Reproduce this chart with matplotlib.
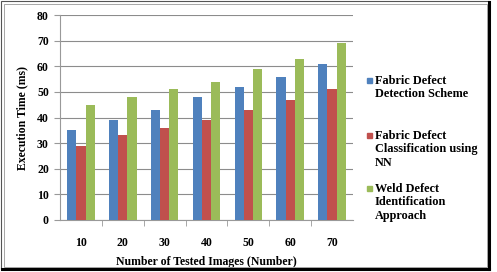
import numpy as np
import matplotlib
matplotlib.use("Agg")
import matplotlib.pyplot as plt
from matplotlib.patches import Rectangle

# data
images = ["10", "20", "30", "40", "50", "60", "70"]
detection = [35, 39, 43, 48, 52, 56, 61]
classification = [29, 33, 36, 39, 43, 47, 51]
weld = [45, 48, 51, 54, 59, 63, 69]
series_names = [
    "Fabric Defect\nDetection Scheme",
    "Fabric Defect\nClassification using\nNN",
    "Weld Defect\nIdentification\nApproach",
]
colors = ["#4F81BD", "#C0504D", "#9BBB59"]

plt.rcParams["font.family"] = ["Liberation Serif", "DejaVu Serif"]
plt.rcParams["font.weight"] = "bold"

fig = plt.figure(figsize=(4.97, 2.72), dpi=100)
ax = fig.add_axes([60 / 497, 52 / 272, 293 / 497, 205 / 272])

x = np.arange(len(images))
w = 0.22
for i, vals in enumerate([detection, classification, weld]):
    ax.bar(x + (i - 1) * w, vals, width=w, color=colors[i], zorder=3)

ax.set_xlim(-0.5, len(images) - 0.5)
ax.set_ylim(0, 80)
ax.set_yticks(range(0, 81, 10))
ax.set_xticks(x)
ax.set_xticklabels(images, fontweight="bold")
ax.set_yticklabels([str(v) for v in range(0, 81, 10)], fontweight="bold")
ax.set_xticks(np.arange(0.5, len(images) - 0.5, 1), minor=True)
ax.tick_params(axis="x", which="major", length=0, pad=12, labelsize=8.5)
ax.tick_params(axis="x", which="minor", length=4, color="#999999", direction="out")
ax.tick_params(axis="y", length=4, color="#999999", labelsize=8.5, pad=4)
ax.yaxis.grid(True, color="#8c8c8c", linewidth=0.8, zorder=0)
for s in ["top", "right"]:
    ax.spines[s].set_visible(False)
for s in ["left", "bottom"]:
    ax.spines[s].set_color("#999999")
    ax.spines[s].set_linewidth(0.8)

ax.set_ylabel("Execution Time (ms)", fontsize=8.5, fontweight="bold", labelpad=6)
ax.set_xlabel("Number of Tested Images (Number)", fontsize=8.5, fontweight="bold",
              labelpad=5)

# legend, markers aligned with the first line of each label
for name, col, ty in zip(series_names, colors, [197 / 272, 142 / 272, 89 / 272]):
    fig.patches.append(Rectangle((367 / 497, ty - 8 / 272), 5 / 497, 5 / 272,
                                 transform=fig.transFigure, color=col))
    fig.text(375 / 497, ty, name, fontsize=8.8, va="top", ha="left",
             linespacing=1.15)

# double frame with dark shadow
fig.patches.append(Rectangle((1 / 497, 3 / 272), 488 / 497, 268 / 272,
                             transform=fig.transFigure, fill=False,
                             edgecolor="#555555", linewidth=0.8))
fig.patches.append(Rectangle((3.5 / 497, 5 / 272), 483 / 497, 263 / 272,
                             transform=fig.transFigure, fill=False,
                             edgecolor="#999999", linewidth=0.6))
fig.lines.append(plt.Line2D([2 / 497, 489 / 497], [3 / 272, 3 / 272],
                            transform=fig.transFigure, color="black", linewidth=2.2))
fig.lines.append(plt.Line2D([489 / 497, 489 / 497], [3 / 272, 270 / 272],
                            transform=fig.transFigure, color="black", linewidth=2.2))

fig.savefig("out.png", dpi=100)
